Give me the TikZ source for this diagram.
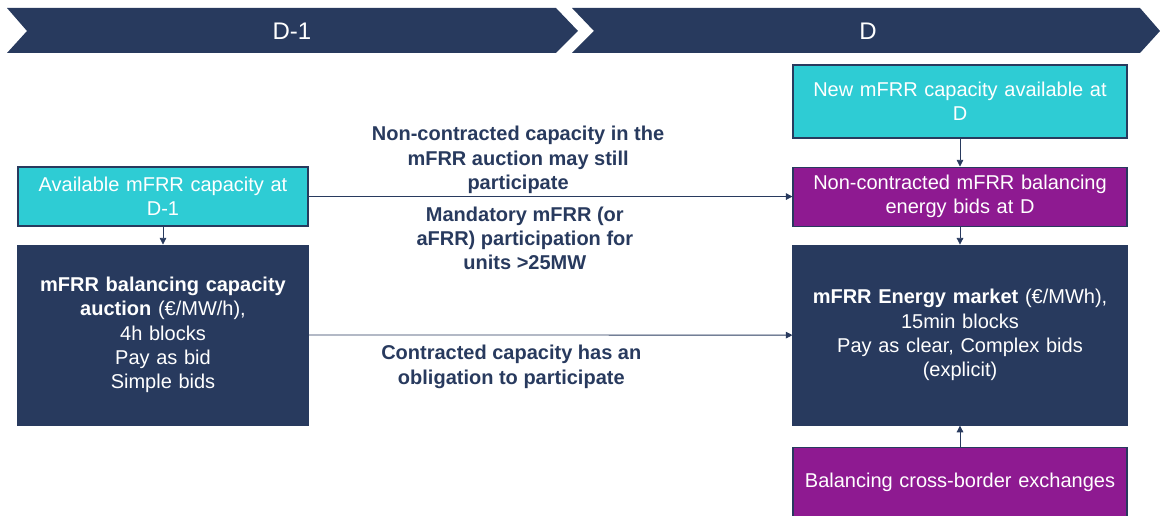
\documentclass[tikz,border=0pt]{standalone}
\usepackage{fontspec}
\setmainfont{Liberation Sans}
\usetikzlibrary{positioning,arrows.meta}

\definecolor{navy}{RGB}{40,58,94}
\definecolor{teal}{RGB}{46,204,212}
\definecolor{plum}{RGB}{142,26,145}

\tikzset{
  box/.style={draw=navy, line width=0.8pt, text=white, align=center,
    font=\fontsize{15}{18.2}\selectfont, inner xsep=8pt, inner ysep=0pt},
  leftbox/.style={box, text width=201.5pt, minimum height=#1},
  rightbox/.style={box, text width=234.5pt, minimum height=#1},
  lbl/.style={text=navy, align=center, font=\fontsize{15}{18.2}\selectfont\bfseries},
  arr/.style={draw=navy, line width=0.6pt, -{Triangle[length=5pt,width=5pt]}},
  hdr/.style={text=white, font=\fontsize{18}{20}\selectfont}
}

\begin{document}
\begin{tikzpicture}[x=0.75pt, y=0.75pt]
  \useasboundingbox (0,0) rectangle (1160,516);

  % day headers
  \fill[navy] (7,508) -- (556,508) -- (578,485) -- (556,463) -- (7,463) -- (27,485) -- cycle;
  \fill[navy] (572,508) -- (1140,508) -- (1160,485) -- (1140,463) -- (572,463) -- (594,485) -- cycle;
  \node[hdr] (hd1) at (292,485) {D-1};
  \node[hdr] (hd) at (868,485) {D};

  % D-1 side
  \node[leftbox=44.25pt, fill=teal] (avail) at (163,319.5) {Available mFRR capacity at\\D-1};
  \node[leftbox=135pt, fill=navy] (auction) [below=13.5pt of avail]
    {\textbf{mFRR balancing capacity}\\\textbf{auction} (€/MW/h),\\4h blocks\\Pay as bid\\Simple bids};

  % D side
  \node[rightbox=54.75pt, fill=teal] (new) at (960,414.5) {New mFRR capacity available at\\D};
  \node[rightbox=44.25pt, fill=plum] (noncon) [below=21pt of new]
    {Non-contracted mFRR balancing\\energy bids at D};
  \node[rightbox=135pt, fill=navy] (energy) [below=13.5pt of noncon]
    {\textbf{mFRR Energy market} (€/MWh),\\15min blocks\\Pay as clear, Complex bids\\(explicit)};
  \node[rightbox=52pt, fill=plum] (xborder) [below=16pt of energy]
    {Balancing cross-border exchanges};

  % connectors
  \draw[arr] (avail) -- (auction);
  \draw[arr] (new) -- (noncon);
  \draw[arr] (noncon) -- (energy);
  \draw[arr] (xborder) -- (energy);
  \draw[arr] (avail.east) -- (noncon.west)
    node[lbl, pos=0.433, above=-1.5pt] {Non-contracted capacity in the\\mFRR auction may still\\participate}
    node[lbl, pos=0.447, below=4pt] {Mandatory mFRR (or\\aFRR) participation for\\units >25MW};
  \draw[arr] (auction.east) -- (energy.west)
    node[lbl, pos=0.419, below=4pt] {Contracted capacity has an\\obligation to participate};
\end{tikzpicture}
\end{document}
